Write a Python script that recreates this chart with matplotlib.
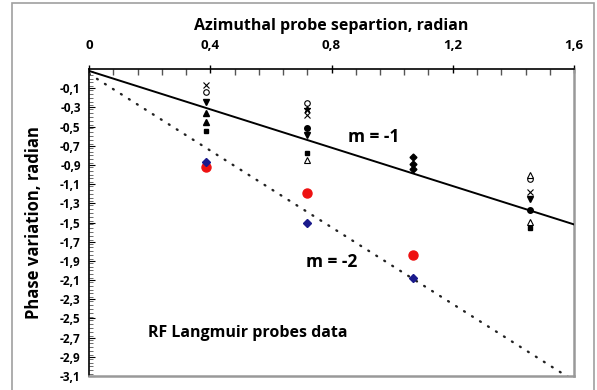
import matplotlib
matplotlib.use("Agg")
import matplotlib.pyplot as plt
import numpy as np
from matplotlib.ticker import MultipleLocator, FixedLocator
from matplotlib.patches import Rectangle

plt.rcParams['font.family'] = ['Open Sans', 'DejaVu Sans']

# ---- data ----
x_ticks = [0, 0.4, 0.8, 1.2, 1.6]
x_tick_labels = ["0", "0,4", "0,8", "1,2", "1,6"]
y_ticks = [-0.1, -0.3, -0.5, -0.7, -0.9, -1.1, -1.3, -1.5, -1.7, -1.9,
           -2.1, -2.3, -2.5, -2.7, -2.9, -3.1]
y_tick_labels = [f"{v:.1f}".replace(".", ",") for v in y_ticks]

# fitted lines (slope m, intercept)
line_m1 = (-1.0, 0.08)
line_m2 = (-2.0, 0.05)
line_x = [0.0, 1.6]

# black probe data series (x, y) per marker type
open_circle_x = [0.385, 0.72, 1.455]
open_circle_y = [-0.14, -0.25, -1.05]
xcross_x = [0.385, 0.72, 1.455]
xcross_y = [-0.07, -0.38, -1.18]
star_x = [0.72]
star_y = [-0.32]
down_tri_x = [0.385, 0.72, 1.455]
down_tri_y = [-0.24, -0.59, -1.26]
filled_tri_x = [0.385, 0.385]
filled_tri_y = [-0.36, -0.45]
filled_square_x = [0.385, 0.72, 1.455]
filled_square_y = [-0.55, -0.78, -1.56]
filled_circle_x = [0.72, 1.455]
filled_circle_y = [-0.52, -1.37]
open_tri_x = [0.72, 1.455, 1.455]
open_tri_y = [-0.85, -1.0, -1.49]
diamond_x = [1.07, 1.07, 1.07]
diamond_y = [-0.82, -0.89, -0.94]

# m = -2 data
red_x = [0.385, 0.72, 1.07]
red_y = [-0.92, -1.19, -1.84]
blue_x = [0.385, 0.72, 1.07]
blue_y = [-0.87, -1.51, -2.08]

# ---- figure ----
fig = plt.figure(figsize=(5.97, 3.90), dpi=100)
fig.patches.append(Rectangle((12/597, -0.05), (594-12)/597, 1.05 - 3/390,
                             transform=fig.transFigure, fill=False,
                             edgecolor='#a0a0a0', linewidth=1.2))
ax = fig.add_axes([89/597, 1-376/390, (574-89)/597, (376-69)/390])

ax.set_xlim(0, 1.6)
ax.set_ylim(-3.1, 0.1)

lx = np.array(line_x)
ax.plot(lx, line_m1[0]*lx + line_m1[1], color='black', lw=1.4, zorder=3)
ax.plot(lx, line_m2[0]*lx + line_m2[1], color='#222222', lw=1.7,
        linestyle=(0, (0.4, 3.6)), zorder=3,
        dash_capstyle='round')

ms = 4
ax.plot(open_circle_x, open_circle_y, 'o', mfc='white', mec='black', ms=ms, mew=0.8, zorder=4)
ax.plot(xcross_x, xcross_y, 'x', color='black', ms=ms, mew=0.8, zorder=4)
ax.plot(star_x, star_y, '*', color='black', ms=ms+1, zorder=4)
ax.plot(down_tri_x, down_tri_y, 'v', color='black', ms=ms, zorder=4)
ax.plot(filled_tri_x, filled_tri_y, '^', color='black', ms=ms, zorder=4)
ax.plot(filled_square_x, filled_square_y, 's', color='black', ms=ms-0.5, zorder=4)
ax.plot(filled_circle_x, filled_circle_y, 'o', color='black', ms=ms, zorder=4)
ax.plot(open_tri_x, open_tri_y, '^', mfc='white', mec='black', ms=ms+0.5, mew=0.8, zorder=4)
ax.plot(diamond_x, diamond_y, 'D', color='black', ms=ms-0.5, zorder=4)
ax.plot(red_x, red_y, 'o', color='#ee1111', ms=6.5, zorder=4)
ax.plot(blue_x, blue_y, 'D', color='#1a1a8c', ms=4, zorder=4)

# axes styling
ax.xaxis.set_ticks_position('top')
ax.xaxis.set_label_position('top')
ax.xaxis.set_major_locator(FixedLocator(x_ticks))
ax.set_xticklabels(x_tick_labels, fontsize=9.5, fontweight='bold')
ax.xaxis.set_minor_locator(MultipleLocator(0.08))
ax.tick_params(axis='x', which='major', direction='inout', length=6, width=1, pad=9)
ax.tick_params(axis='x', which='minor', direction='in', length=4, width=1, color='#555555')

ax.yaxis.set_major_locator(FixedLocator(y_ticks))
ax.set_yticklabels(y_tick_labels, fontsize=8.5, fontweight='bold')
ax.yaxis.set_minor_locator(MultipleLocator(0.04))
ax.tick_params(axis='y', which='major', direction='in', length=4, width=0.8, pad=6)
ax.tick_params(axis='y', which='minor', direction='in', length=3, width=0.6, color='#555555')

for s in ['top', 'left']:
    ax.spines[s].set_color('black')
    ax.spines[s].set_linewidth(1.2)
for s in ['right', 'bottom']:
    ax.spines[s].set_color('#999999')
    ax.spines[s].set_linewidth(1.8)

ax.set_xlabel("Azimuthal probe separtion, radian", fontsize=11.5, fontweight='bold', labelpad=7)
ax.set_ylabel("Phase variation, radian", fontsize=12, fontweight='bold', labelpad=12)

ax.text(0.855, -0.61, "m = -1", fontsize=12.5, fontweight='bold', ha='left', va='center')
ax.text(0.715, -1.91, "m = -2", fontsize=12.5, fontweight='bold', ha='left', va='center')
ax.text(0.195, -2.65, "RF Langmuir probes data", fontsize=11.5, fontweight='bold',
        ha='left', va='center')

fig.savefig("out.png", dpi=100)
